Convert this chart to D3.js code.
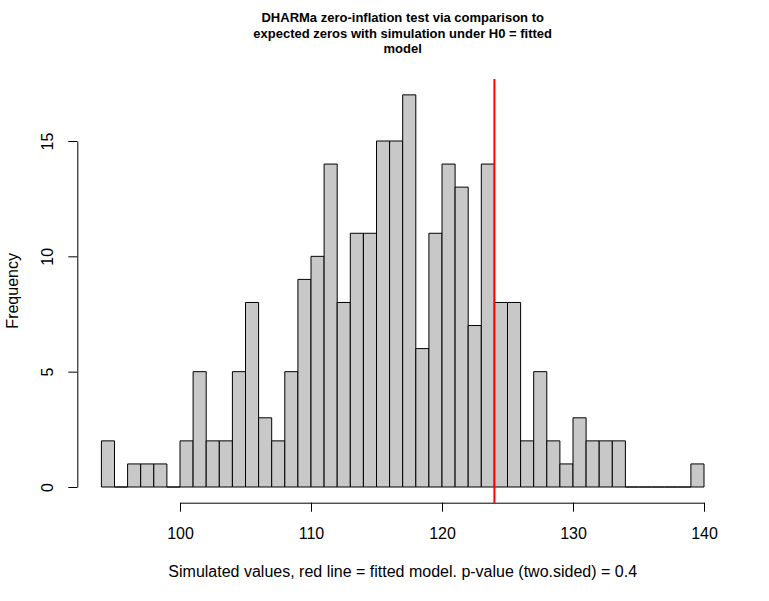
<!DOCTYPE html>
<html>
<head>
<meta charset="utf-8">
<script src="https://cdn.jsdelivr.net/npm/d3@7"></script>
<style>
  html, body { margin: 0; padding: 0; background: #fff; }
  svg { display: block; font-family: "Liberation Sans", Arial, Helvetica, sans-serif; }
</style>
</head>
<body>
<svg id="chart" width="769" height="601"></svg>
<script>
// ---- data ----
const binStarts = [94,95,96,97,98,99,100,101,102,103,104,105,106,107,108,109,110,111,112,113,114,115,116,117,118,119,120,121,122,123,124,125,126,127,128,129,130,131,132,133,134,135,136,137,138,139];
const counts    = [2,0,1,1,1,0,2,5,2,2,5,8,3,2,5,9,10,14,8,11,11,15,15,17,6,11,14,13,7,14,8,8,2,5,2,1,3,2,2,2,0,0,0,0,0,1];
const binWidth = 1;
const observed = 124;
const xTicks = [100,110,120,130,140];
const yTicks = [0,5,10,15];
const titleLines = ["DHARMa zero-inflation test via comparison to",
                    "expected zeros with simulation under H0 = fitted",
                    "model"];
const xLabel = "Simulated values, red line = fitted model. p-value (two.sided) = 0.4";
const yLabel = "Frequency";

// ---- layout ----
const svg = d3.select("#chart");
const x = d3.scaleLinear().domain([100, 140]).range([180, 704]);
const y = d3.scaleLinear().domain([0, 15]).range([487, 141]);
const plotLeft = 77.3, plotRight = 728.1, plotTop = 79, plotBottom = 502.7;
const FONT = "Liberation Sans, Arial, Helvetica, sans-serif";

// bars (path so zero-height bins render as a line)
svg.append("g").selectAll("path")
  .data(binStarts.map((b, i) => ({b, c: counts[i]})))
  .join("path")
  .attr("d", d => {
    const x0 = x(d.b), x1 = x(d.b + binWidth), y0 = y(0), y1 = y(d.c);
    return `M${x0},${y0}H${x1}V${y1}H${x0}Z`;
  })
  .attr("fill", "#c8c8c8")
  .attr("stroke", "#000")
  .attr("stroke-width", 1);

// red line
svg.append("line")
  .attr("x1", x(observed)).attr("x2", x(observed))
  .attr("y1", plotTop).attr("y2", plotBottom)
  .attr("stroke", "#ff0000").attr("stroke-width", 2);

// x axis
const xAxis = svg.append("g")
  .attr("transform", `translate(0,${plotBottom})`)
  .call(d3.axisBottom(x).tickValues(xTicks).tickSizeOuter(0).tickSizeInner(9).tickFormat(d3.format("d")));
xAxis.selectAll("line, path").attr("stroke", "#000");
xAxis.selectAll("text")
  .attr("font-size", 16).attr("fill", "#000").attr("font-family", FONT)
  .attr("y", 36).attr("dy", null);

// y axis
const yAxis = svg.append("g")
  .attr("transform", `translate(${plotLeft},0)`)
  .call(d3.axisLeft(y).tickValues(yTicks).tickSizeOuter(0).tickSizeInner(9).tickFormat(d3.format("d")));
yAxis.selectAll("line, path").attr("stroke", "#000");
yAxis.selectAll("text")
  .attr("font-size", 16).attr("fill", "#000").attr("font-family", FONT)
  .attr("x", null).attr("dy", null)
  .attr("text-anchor", "middle")
  .attr("transform", `translate(${53 - plotLeft},0) rotate(-90)`);

// title
const plotCenter = (plotLeft + plotRight) / 2;
svg.append("g").selectAll("text")
  .data(titleLines)
  .join("text")
  .attr("x", plotCenter)
  .attr("y", (d, i) => 22 + i * 15.5)
  .attr("text-anchor", "middle")
  .attr("font-weight", "bold")
  .attr("font-size", 13)
  .attr("font-family", FONT)
  .text(d => d);

// x label
svg.append("text")
  .attr("x", plotCenter).attr("y", 577)
  .attr("text-anchor", "middle")
  .attr("font-size", 16)
  .attr("font-family", FONT)
  .text(xLabel);

// y label
svg.append("text")
  .attr("transform", `translate(18,${(plotTop + plotBottom) / 2}) rotate(-90)`)
  .attr("text-anchor", "middle")
  .attr("font-size", 16)
  .attr("font-family", FONT)
  .text(yLabel);
</script>
</body>
</html>
